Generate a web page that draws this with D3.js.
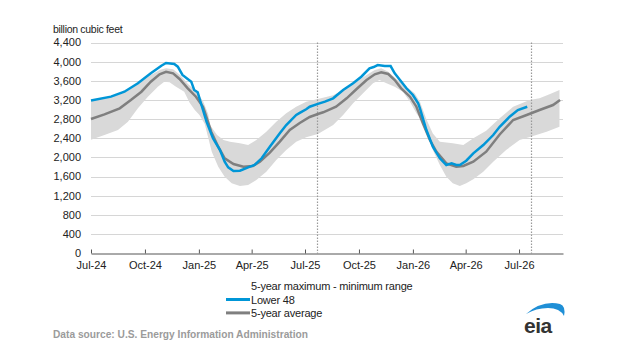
<!DOCTYPE html>
<html lang="en">
<head>
<meta charset="UTF-8">
<title>Working gas in underground storage</title>
<script src="https://d3js.org/d3.v7.min.js"></script>
<style>
  body { margin: 0; background: #fff; }
  svg text { font-family: "Liberation Sans", Arial, sans-serif; }
</style>
</head>
<body>
<div id="chart"></div>
<script>
// Lower 48 working gas (bcf)
const lower48Dates = ["2024-07-01","2024-08-04","2024-08-27","2024-09-19","2024-10-11","2024-10-29","2024-11-06","2024-11-20","2024-11-26","2024-12-04","2024-12-19","2024-12-24","2024-12-30","2025-01-08","2025-01-14","2025-01-25","2025-02-06","2025-02-14","2025-02-20","2025-03-01","2025-03-12","2025-03-26","2025-04-06","2025-04-18","2025-05-02","2025-05-19","2025-05-30","2025-06-16","2025-06-22","2025-07-03","2025-07-09","2025-07-23","2025-08-04","2025-08-18","2025-09-04","2025-09-21","2025-10-05","2025-10-19","2025-10-26","2025-11-02","2025-11-14","2025-11-24","2025-12-01","2025-12-10","2025-12-21","2026-01-01","2026-01-10","2026-01-13","2026-01-24","2026-02-04","2026-02-16","2026-02-27","2026-03-08","2026-03-16","2026-03-22","2026-04-02","2026-04-14","2026-05-01","2026-05-18","2026-05-29","2026-06-15","2026-06-29","2026-07-15"];
const lower48Values = [3190,3270,3373,3548,3757,3916,3972,3951,3895,3722,3582,3408,3360,2991,2747,2400,2156,1912,1795,1718,1724,1795,1843,1983,2225,2505,2678,2887,2930,3006,3060,3120,3165,3235,3408,3548,3686,3861,3888,3930,3909,3909,3757,3617,3444,3304,3130,3026,2573,2225,1983,1843,1878,1843,1843,1933,2087,2260,2469,2640,2851,2991,3060];

// 5-year average
const avgDates = ["2024-07-01","2024-07-24","2024-08-19","2024-09-07","2024-09-25","2024-10-11","2024-10-26","2024-11-06","2024-11-18","2024-11-29","2024-12-13","2024-12-27","2025-01-08","2025-01-11","2025-01-22","2025-02-03","2025-02-14","2025-03-01","2025-03-18","2025-04-03","2025-04-15","2025-05-02","2025-05-19","2025-06-05","2025-06-22","2025-07-09","2025-07-23","2025-08-01","2025-08-23","2025-09-10","2025-09-27","2025-10-14","2025-10-28","2025-11-08","2025-11-20","2025-12-01","2025-12-12","2025-12-27","2026-01-07","2026-01-18","2026-01-30","2026-02-10","2026-02-27","2026-03-16","2026-03-28","2026-04-14","2026-05-06","2026-05-29","2026-06-21","2026-07-14","2026-08-05","2026-08-28","2026-09-09"];
const avgValues = [2803,2901,3026,3200,3373,3582,3736,3790,3757,3638,3444,3269,3060,2950,2538,2225,1983,1864,1808,1822,1912,2100,2330,2574,2720,2845,2908,2943,3060,3235,3429,3617,3736,3778,3743,3617,3444,3269,3060,2713,2365,2121,1878,1808,1822,1912,2121,2480,2782,2887,2991,3095,3200];

// 5-year maximum
const maxDates = ["2024-07-01","2024-08-04","2024-08-28","2024-09-19","2024-10-11","2024-10-27","2024-11-06","2024-11-18","2024-11-30","2024-12-13","2024-12-27","2025-01-08","2025-01-17","2025-01-20","2025-02-01","2025-02-12","2025-02-23","2025-03-12","2025-03-26","2025-04-09","2025-04-26","2025-05-13","2025-05-30","2025-06-16","2025-07-03","2025-07-23","2025-08-18","2025-09-10","2025-09-27","2025-10-14","2025-10-28","2025-11-08","2025-11-20","2025-12-04","2025-12-21","2026-01-04","2026-01-13","2026-01-24","2026-02-04","2026-02-16","2026-03-10","2026-03-28","2026-04-14","2026-05-06","2026-05-29","2026-06-21","2026-07-19","2026-08-05","2026-08-22","2026-09-08"];
const maxValues = [3190,3260,3360,3530,3720,3830,3860,3840,3720,3540,3380,3180,2900,2678,2469,2365,2330,2296,2260,2365,2538,2747,2922,3060,3165,3220,3300,3444,3582,3722,3826,3861,3790,3638,3477,3339,3165,2800,2500,2330,2296,2260,2400,2560,2817,3060,3200,3235,3319,3408];

// 5-year minimum
const minDates = ["2024-07-01","2024-07-24","2024-08-16","2024-09-02","2024-09-19","2024-10-06","2024-10-23","2024-11-03","2024-11-12","2024-11-23","2024-12-07","2024-12-16","2024-12-25","2025-01-02","2025-01-11","2025-01-23","2025-02-03","2025-02-14","2025-02-26","2025-03-12","2025-03-26","2025-04-09","2025-04-26","2025-05-13","2025-05-30","2025-06-16","2025-07-03","2025-07-23","2025-08-18","2025-09-04","2025-09-21","2025-10-08","2025-10-25","2025-11-05","2025-11-17","2025-12-01","2025-12-15","2025-12-27","2026-01-07","2026-01-13","2026-01-24","2026-02-04","2026-02-16","2026-02-27","2026-03-10","2026-03-22","2026-04-02","2026-04-14","2026-05-01","2026-05-18","2026-06-09","2026-07-02","2026-07-25","2026-08-17","2026-09-08"];
const minValues = [2370,2469,2574,2747,3026,3269,3477,3582,3569,3477,3373,3150,2991,2887,2700,2121,1808,1599,1461,1405,1426,1530,1703,1947,2156,2330,2421,2490,2678,2887,3130,3339,3548,3617,3548,3477,3373,3165,2922,2817,2574,2156,1843,1599,1461,1405,1461,1544,1703,1912,2156,2365,2450,2538,2642];

const markerDates = ["2025-07-22","2026-07-21"];
const xTickDates = ["2024-07-01","2024-10-01","2025-01-01","2025-04-01","2025-07-01","2025-10-01","2026-01-01","2026-04-01","2026-07-01"];
const yTicks = [0,400,800,1200,1600,2000,2400,2800,3200,3600,4000,4400];
const xDomain = ["2024-07-01","2026-09-14"];

const parse = d3.timeParse("%Y-%m-%d");
const zip = (ds, vs) => ds.map((d, i) => ({ date: parse(d), value: vs[i] }));
const lower48 = zip(lower48Dates, lower48Values);
const avg = zip(avgDates, avgValues);
const maxS = zip(maxDates, maxValues);
const minS = zip(minDates, minValues);

const W = 623, H = 344;
const svg = d3.select("#chart").append("svg")
  .attr("width", W).attr("height", H);

const x = d3.scaleTime().domain(xDomain.map(parse)).range([91, 563]);
const y = d3.scaleLinear().domain([0, 4400]).range([253.3, 42.5]);

// gridlines
svg.append("g").selectAll("line")
  .data(yTicks.filter(v => v > 0))
  .join("line")
  .attr("x1", 91).attr("x2", 563)
  .attr("y1", d => Math.round(y(d)) + 0.5).attr("y2", d => Math.round(y(d)) + 0.5)
  .attr("stroke", "#d6d6d6").attr("stroke-width", 1);

// range band
const line = d3.line().x(d => x(d.date)).y(d => y(d.value));
svg.append("path")
  .attr("d", line(maxS.concat(minS.slice().reverse())) + "Z")
  .attr("fill", "#d9d9d9").attr("stroke", "none");

// marker lines
svg.append("g").selectAll("line")
  .data(markerDates.map(parse))
  .join("line")
  .attr("x1", d => Math.round(x(d)) + 0.5).attr("x2", d => Math.round(x(d)) + 0.5)
  .attr("y1", y(4400)).attr("y2", y(0))
  .attr("stroke", "#9a9a9a").attr("stroke-width", 1.2)
  .attr("stroke-dasharray", "1.5,1.5");

svg.append("path").datum(avg)
  .attr("d", line).attr("fill", "none")
  .attr("stroke", "#7f7f7f").attr("stroke-width", 2.5);

svg.append("path").datum(lower48)
  .attr("d", line).attr("fill", "none")
  .attr("stroke", "#0096d7").attr("stroke-width", 2.5);

// x axis
const xAxis = svg.append("g")
  .attr("transform", `translate(0,${Math.round(y(0)) + 0.5})`)
  .call(d3.axisBottom(x).tickValues(xTickDates.map(parse))
    .tickFormat(d3.timeFormat("%b-%y")).tickSize(4).tickSizeOuter(0));
xAxis.select(".domain").attr("stroke", "#555");
xAxis.selectAll(".tick line").attr("stroke", "#555").attr("transform", "translate(0,-4)");
xAxis.selectAll("text").attr("font-size", 11).attr("fill", "#222").attr("dy", "0.71em").attr("y", 8);

// y axis labels
svg.append("g").selectAll("text")
  .data(yTicks)
  .join("text")
  .attr("x", 81).attr("y", d => y(d))
  .attr("dy", "0.35em")
  .attr("text-anchor", "end")
  .attr("font-size", 11).attr("fill", "#222")
  .text(d3.format(","));

svg.append("text")
  .attr("x", 53).attr("y", 33)
  .attr("font-size", 10.5).attr("fill", "#222")
  .attr("letter-spacing", -0.3)
  .text("billion cubic feet");

// legend
const legend = svg.append("g").attr("font-size", 11).attr("fill", "#222");
legend.append("text").attr("x", 251).attr("y", 289.5).attr("letter-spacing", -0.2).text("5-year maximum - minimum range");
const items = [
  { label: "Lower 48", color: "#0096d7" },
  { label: "5-year average", color: "#7f7f7f" }
];
items.forEach((it, i) => {
  const yy = 299.5 + i * 13.4;
  legend.append("line").attr("x1", 226).attr("x2", 250).attr("y1", yy).attr("y2", yy)
    .attr("stroke", it.color).attr("stroke-width", 3);
  legend.append("text").attr("x", 251).attr("y", yy + 4).attr("letter-spacing", -0.2).text(it.label);
});

svg.append("text")
  .attr("x", 53).attr("y", 338)
  .attr("font-size", 11).attr("font-weight", "bold").attr("fill", "#9b9b9b")
  .attr("textLength", 255).attr("lengthAdjust", "spacingAndGlyphs")
  .text("Data source:  U.S. Energy Information Administration");

// eia logo
const logo = svg.append("g");
logo.append("path")
  .attr("d", "M526,314 Q542,300 560,304 Q566,306 564,316 Q560,308 548,308 Q536,308 526,314 Z")
  .attr("fill", "#1f8fd6");
logo.append("text")
  .attr("x", 524).attr("y", 333)
  .attr("font-size", 21).attr("font-weight", "bold").attr("fill", "#333")
  .attr("letter-spacing", -0.5)
  .text("eia");
</script>
</body>
</html>
